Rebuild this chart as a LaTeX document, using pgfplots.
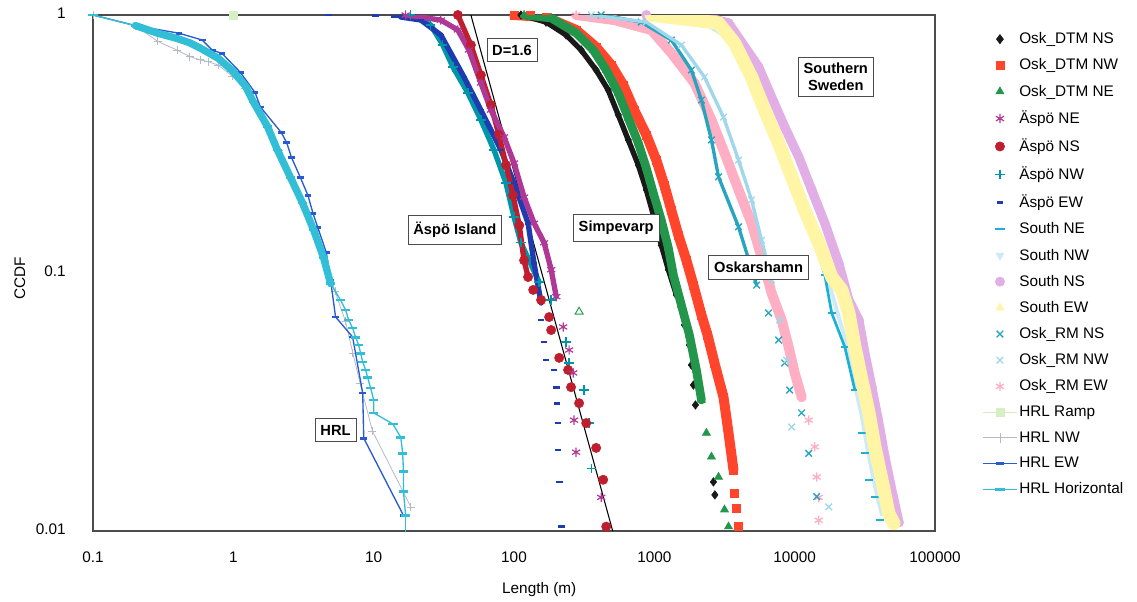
\documentclass[border=0pt]{standalone}
\usepackage{fontspec}
\setmainfont{Liberation Sans}
\usepackage{pgfplots}
\pgfplotsset{compat=1.18}
\definecolor{cBlack}{RGB}{25,25,25}
\definecolor{cRed}{RGB}{255,70,45}
\definecolor{cGreen}{RGB}{35,150,75}
\definecolor{cMag}{RGB}{175,55,150}
\definecolor{cDRed}{RGB}{190,30,45}
\definecolor{cTeal}{RGB}{0,150,170}
\definecolor{cBlue}{RGB}{30,60,175}
\definecolor{cSNE}{RGB}{30,175,215}
\definecolor{cSNW}{RGB}{205,235,245}
\definecolor{cSNS}{RGB}{225,175,230}
\definecolor{cSEW}{RGB}{255,245,165}
\definecolor{cRNS}{RGB}{40,165,190}
\definecolor{cRNW}{RGB}{160,215,235}
\definecolor{cREW}{RGB}{255,175,195}
\definecolor{cRamp}{RGB}{215,240,195}
\definecolor{cHNW}{RGB}{180,185,195}
\definecolor{cHEW}{RGB}{40,90,210}
\definecolor{cHH}{RGB}{50,190,215}
\newcommand\fs{\fontsize{11.5pt}{13pt}\selectfont}
\newcommand\fb{\fontsize{11pt}{13pt}\selectfont\bfseries}
\tikzset{lbl/.style={draw=black!70, fill=white, font=\fb, inner xsep=4pt, inner ysep=5pt, line width=0.6pt}}
\pgfplotsset{band/.style={line width=#1, line join=round, line cap=round, forget plot}}
\begin{document}
\begin{tikzpicture}
\begin{axis}[name=ax, scale only axis, width=631.5pt, height=387pt,
 xmode=log, ymode=log, xmin=0.1, xmax=100000, ymin=0.01, ymax=1,
 xtick={0.1,1,10,100,1000,10000,100000}, xticklabels={0.1,1,10,100,1000,10000,100000},
 ytick={0.01,0.1,1}, yticklabels={0.01,0.1,1},
 tick style={draw=none}, minor xtick={}, minor ytick={},
 /pgf/number format/assume math mode=true,
 typeset ticklabels with strut,
 tick label style={font=\fs},
 xticklabel style={yshift=-11pt},
 yticklabel style={xshift=-17pt},
 axis line style={draw=black!70, line width=0.8pt},
 xlabel={Length (m)}, ylabel={CCDF},
 label style={font=\fs},
 xlabel style={at={(axis description cs:0.53,-0.1214)}, anchor=base},
 ylabel style={at={(axis description cs:-0.087,0.49)}, anchor=center, rotate=0},
 clip mode=individual,
 legend style={at={(1,1)}, anchor=north west, xshift=35pt, yshift=-12pt, draw=none, fill=none, font=\fs, row sep=7.8pt, inner sep=0pt, nodes={inner sep=1pt}},
 legend cell align=left,
 legend image code/.code={\draw[mark repeat=2,mark phase=2,#1] plot coordinates {(0pt,0pt)(13pt,0pt)(26pt,0pt)};},
]
% ---------- legend (order of the reference) ----------
\addlegendimage{only marks, mark=diamond*, mark size=3.5pt, color=cBlack}
\addlegendentry{Osk\_DTM NS}
\addlegendimage{only marks, mark=square*, mark size=3pt, color=cRed}
\addlegendentry{Osk\_DTM NW}
\addlegendimage{only marks, mark=triangle*, mark size=3.5pt, color=cGreen}
\addlegendentry{Osk\_DTM NE}
\addlegendimage{only marks, mark=asterisk, mark size=3.5pt, line width=0.9pt, color=cMag}
\addlegendentry{Äspö NE}
\addlegendimage{only marks, mark=*, mark size=3.5pt, color=cDRed}
\addlegendentry{Äspö NS}
\addlegendimage{only marks, mark=+, mark size=3.5pt, line width=1pt, color=cTeal}
\addlegendentry{Äspö NW}
\addlegendimage{only marks, mark=-, mark size=2.5pt, line width=2pt, color=cBlue}
\addlegendentry{Äspö EW}
\addlegendimage{only marks, mark=-, mark size=3.5pt, line width=1.5pt, color=cSNE}
\addlegendentry{South NE}
\addlegendimage{only marks, mark=triangle*, mark size=3.5pt, mark options={rotate=180}, color=cSNW}
\addlegendentry{South NW}
\addlegendimage{only marks, mark=*, mark size=3.5pt, color=cSNS}
\addlegendentry{South NS}
\addlegendimage{only marks, mark=triangle*, mark size=3.5pt, color=cSEW}
\addlegendentry{South EW}
\addlegendimage{only marks, mark=x, mark size=3.5pt, line width=1pt, color=cRNS}
\addlegendentry{Osk\_RM NS}
\addlegendimage{only marks, mark=x, mark size=3.5pt, line width=1pt, color=cRNW}
\addlegendentry{Osk\_RM NW}
\addlegendimage{only marks, mark=asterisk, mark size=3.5pt, line width=1pt, color=cREW}
\addlegendentry{Osk\_RM EW}
\addlegendimage{mark=square*, mark size=3pt, line width=0.6pt, color=cRamp}
\addlegendentry{HRL Ramp}
\addlegendimage{mark=+, mark size=3.5pt, line width=0.6pt, color=cHNW}
\addlegendentry{HRL NW}
\addlegendimage{mark=-, mark size=3pt, line width=1pt, color=cHEW, mark options={line width=2pt}}
\addlegendentry{HRL EW}
\addlegendimage{mark=-, mark size=3.5pt, line width=1pt, color=cHH, mark options={line width=2pt}}
\addlegendentry{HRL Horizontal}

% ---------- HRL ----------
\addplot[cHNW, line width=0.6pt, mark=+, mark size=3pt, forget plot] coordinates {
(0.1,1) (0.2,0.91) (0.29,0.79) (0.4,0.73) (0.49,0.69) (0.58,0.67) (0.66,0.66) (0.78,0.64) (0.98,0.58) (1.22,0.52) (1.45,0.45) (1.8,0.36) (2.1,0.30) (2.6,0.23) (3.2,0.18) (3.8,0.145) (4.5,0.112) (5.3,0.085) (6.3,0.065) (7.1,0.049) (8.0,0.0375) (9.8,0.0244) (18.4,0.0124)};
\addplot[cHEW, line width=1pt, mark=-, mark size=2.5pt, mark options={line width=2pt}, forget plot] coordinates {
(0.1,1) (0.2,0.91) (0.41,0.85) (0.6,0.80) (0.71,0.73) (0.83,0.71) (1.12,0.60) (1.43,0.50) (1.56,0.44) (2.2,0.35) (2.4,0.32) (2.6,0.28) (3.0,0.235) (3.4,0.20) (3.7,0.17) (4.0,0.15) (4.6,0.12) (4.93,0.094) (5.35,0.0676) (7.08,0.0565) (8.35,0.0343) (8.5,0.0229) (16.3,0.0115)};
\addplot[cHH, band=5.5pt] coordinates {
(0.2,0.91) (0.29,0.85) (0.4,0.81) (0.49,0.78) (0.58,0.745) (0.78,0.68) (0.98,0.61) (1.22,0.53) (1.39,0.46) (1.75,0.37) (2.06,0.30) (2.55,0.235) (3.11,0.187) (3.73,0.147) (4.39,0.115) (4.93,0.091)};
\addplot[cHH, line width=1pt, mark=-, mark size=3.5pt, mark options={line width=2pt}, forget plot] coordinates {
(0.1,1) (0.2,0.91) (0.29,0.85) (0.4,0.81) (0.49,0.78) (0.58,0.745) (0.78,0.68) (0.98,0.61) (1.22,0.53) (1.39,0.46) (1.75,0.37) (2.06,0.30) (2.55,0.235) (3.11,0.187) (3.73,0.147) (4.39,0.115) (4.93,0.091) (5.81,0.0786) (6.31,0.0719) (6.63,0.0658) (7.08,0.0612) (7.44,0.0564) (7.81,0.0526) (8.07,0.0489) (8.35,0.0452) (8.77,0.0421) (9.06,0.0393) (9.52,0.0358) (10,0.0322) (10,0.0287) (13.7,0.026) (15.6,0.0231) (16.1,0.020) (16.3,0.0170) (16.3,0.0142) (16.9,0.0115)};
\addplot[cHH, line width=1pt, forget plot] coordinates {(16.9,0.0115) (16.9,0.0095)};
\addplot[only marks, mark=square*, mark size=3pt, cRamp, forget plot] coordinates {(1,1)};

% ---------- Aspo ----------
\addplot[black, line width=0.8pt, forget plot] coordinates {(49.3,1) (505,0.01)};
\addplot[cTeal, band=4pt] coordinates {
(18.4,1) (25.5,0.915) (31.1,0.765) (36.7,0.629) (46.9,0.499) (58.1,0.392) (72,0.30) (87.7,0.223) (100,0.165) (112,0.131) (151,0.0923)};
\addplot[cBlue, band=4pt] coordinates {
(15.6,0.982) (21.7,0.956) (30.1,0.837) (44,0.575) (58.1,0.428) (80.7,0.30) (100,0.223) (126,0.156) (139,0.109) (156,0.0765)};
\addplot[cDRed, band=4pt] coordinates {
(39.8,1) (49.3,0.765) (58.1,0.585) (68.5,0.448) (78.1,0.343) (87.7,0.262) (98.4,0.200) (109,0.153) (118,0.112) (126,0.0965)};
\addplot[cMag, band=4pt] coordinates {
(16.9,1) (30.1,0.956) (39.8,0.875) (47.7,0.732) (58.1,0.545) (68.5,0.428) (84.9,0.337) (100,0.267) (118,0.197) (139,0.156) (164,0.131) (184,0.103) (200,0.081)};
\addplot[only marks, mark=+, mark size=3.5pt, line width=1pt, cTeal, forget plot] coordinates {
(18.4,1) (25.5,0.915) (31.1,0.765) (36.7,0.629) (46.9,0.499) (58.1,0.392) (72,0.30) (87.7,0.223) (100,0.165) (112,0.131) (151,0.0923) (184,0.0786) (235,0.054) (247,0.0448) (316,0.0352) (343,0.0262) (355,0.0175)};
\addplot[only marks, mark=-, mark size=2.5pt, line width=2pt, cBlue, forget plot] coordinates {
(4.77,1) (10.3,0.995) (14,0.985) (15.6,0.982) (21.7,0.956) (30.1,0.837) (44,0.575) (58.1,0.428) (80.7,0.30) (100,0.223) (126,0.156) (139,0.109) (156,0.0765) (156,0.0658) (164,0.054) (169,0.046) (193,0.0421) (200,0.0361) (203,0.0313) (206,0.0262) (206,0.0206) (210,0.0155) (217,0.0104)};
\addplot[only marks, mark=*, mark size=3.5pt, cDRed, forget plot] coordinates {
(39.8,1) (49.3,0.765) (58.1,0.585) (68.5,0.448) (78.1,0.343) (87.7,0.262) (98.4,0.200) (109,0.153) (118,0.112) (126,0.0965) (137,0.086) (156,0.0786) (178,0.0675) (184,0.0601) (210,0.0469) (243,0.0421) (255,0.0361) (291,0.0313) (327,0.0262) (385,0.021) (432,0.0158) (454,0.0104)};
\addplot[only marks, mark=asterisk, mark size=3.5pt, line width=0.9pt, cMag, forget plot] coordinates {
(16.9,1) (30.1,0.956) (39.8,0.875) (47.7,0.732) (58.1,0.545) (68.5,0.428) (84.9,0.337) (100,0.267) (118,0.197) (139,0.156) (164,0.131) (184,0.103) (200,0.081) (224,0.0618) (247,0.0503) (264,0.041) (268,0.0269) (277,0.0202) (418,0.0135)};
\addplot[only marks, mark=triangle, mark size=3.5pt, line width=0.7pt, cGreen, forget plot] coordinates {(291,0.0707)};

% ---------- Simpevarp (Osk_DTM) ----------
\addplot[cRed, band=7.5pt] coordinates {
(100,1) (169,0.982) (277,0.875) (385,0.751) (493,0.640) (601,0.535) (719,0.428) (877,0.343) (1033,0.274) (1178,0.219) (1322,0.175) (1484,0.140) (1693,0.112) (1899,0.0898) (2166,0.0688) (2393,0.0575) (2683,0.0448) (3111,0.033) (3378,0.024) (3667,0.0172)};
\addplot[only marks, mark=square*, mark size=3pt, cRed, forget plot] coordinates {
(100,1) (130,0.995) (169,0.982) (277,0.875) (385,0.751) (493,0.640) (601,0.535) (719,0.428) (877,0.343) (1033,0.274) (1178,0.219) (1322,0.175) (1484,0.140) (1693,0.112) (1899,0.0898) (2166,0.0688) (2393,0.0575) (2683,0.0448) (3111,0.033) (3378,0.024) (3667,0.0172) (3727,0.014) (3853,0.0123) (3981,0.0104)};
\addplot[cBlack, band=4pt] coordinates {
(112,1) (169,0.939) (235,0.837) (301,0.732) (385,0.612) (469,0.512) (553,0.41) (652,0.328) (769,0.262) (877,0.21) (984,0.168) (1122,0.128) (1259,0.103) (1436,0.0822)};
\addplot[only marks, mark=diamond*, mark size=3.2pt, cBlack, forget plot] coordinates {
(112,1) (169,0.939) (235,0.837) (301,0.732) (385,0.612) (469,0.512) (553,0.41) (652,0.328) (769,0.262) (877,0.21) (984,0.168) (1122,0.128) (1259,0.103) (1436,0.0822) (1637,0.0629) (1778,0.0526) (1837,0.044) (1899,0.0368) (1963,0.0308) (2637,0.0155) (2700,0.0138)};
\addplot[cGreen, band=6.5pt] coordinates {
(118,1) (184,0.974) (277,0.852) (367,0.732) (454,0.612) (553,0.499) (652,0.399) (769,0.319) (877,0.255) (984,0.204) (1122,0.160) (1259,0.125) (1368,0.098) (1559,0.0751) (1778,0.0575) (1995,0.0421) (2166,0.0322)};
\addplot[only marks, mark=triangle*, mark size=3.5pt, cGreen, forget plot] coordinates {
(118,1) (184,0.974) (277,0.852) (367,0.732) (454,0.612) (553,0.499) (652,0.399) (769,0.319) (877,0.255) (984,0.204) (1122,0.160) (1259,0.125) (1368,0.098) (1559,0.0751) (1778,0.0575) (1995,0.0421) (2166,0.0322) (2350,0.024) (2553,0.0194) (2866,0.0162) (3162,0.0121) (3378,0.0104)};

% ---------- Oskarshamn (Osk_RM) ----------
\addplot[cREW, band=7.5pt] coordinates {
(277,1) (518,0.956) (952,0.875) (1322,0.712) (1931,0.545) (2553,0.392) (3162,0.292) (3981,0.21) (4929,0.156) (5809,0.115) (6848,0.0837) (8072,0.0658) (9057,0.0517) (10000,0.041) (11213,0.033)};
\addplot[only marks, mark=asterisk, mark size=3.5pt, line width=1pt, cREW, forget plot] coordinates {
(277,1) (518,0.956) (952,0.875) (1322,0.712) (1931,0.545) (2553,0.392) (3162,0.292) (3981,0.21) (4929,0.156) (5809,0.115) (6848,0.0837) (8072,0.0658) (9057,0.0517) (10000,0.041) (11213,0.033) (12589,0.0269) (13900,0.0212) (14350,0.0162) (14830,0.0135) (14830,0.011)};
\addplot[cRNS, band=2.5pt] coordinates {
(418,1) (807,0.939) (1322,0.80) (1837,0.612) (2166,0.468) (2553,0.328) (2866,0.236) (3981,0.151) (5358,0.0898)};
\addplot[only marks, mark=x, mark size=3.5pt, line width=1pt, cRNS, forget plot] coordinates {
(418,1) (807,0.939) (1322,0.80) (1837,0.612) (2166,0.468) (2553,0.328) (2866,0.236) (3981,0.151) (5358,0.0898) (6514,0.070) (7690,0.055) (8490,0.0448) (9200,0.0352) (11213,0.0287) (12589,0.020) (14350,0.0136)};
\addplot[cRNW, band=2.5pt] coordinates {
(355,1) (877,0.939) (1559,0.765) (2275,0.575) (3111,0.402) (3981,0.274) (4929,0.192) (5809,0.134) (6848,0.094)};
\addplot[only marks, mark=x, mark size=3.5pt, line width=1pt, cRNW, forget plot] coordinates {
(355,1) (877,0.939) (1559,0.765) (2275,0.575) (3111,0.402) (3981,0.274) (4929,0.192) (5809,0.134) (6848,0.094) (7820,0.0658) (8770,0.046) (9513,0.0253) (17500,0.0124)};

% ---------- Southern Sweden ----------
\addplot[cSNS, band=7pt] coordinates {
(877,1) (2166,0.991) (3378,0.931) (5530,0.629) (6848,0.481) (8490,0.368) (10690,0.282) (13217,0.21) (16400,0.156) (20600,0.109) (24300,0.0786) (28640,0.0658) (31620,0.049) (35440,0.0361) (39800,0.0262) (43900,0.0194) (49236,0.0144) (55300,0.0108)};
\addplot[only marks, mark=*, mark size=3.5pt, cSNS, forget plot] coordinates {
(877,1) (3378,0.931) (5530,0.629) (8490,0.368) (13217,0.21) (20600,0.109) (28640,0.0658) (35440,0.0361) (43900,0.0194) (55300,0.0108)};
\addplot[cSNW, band=3pt] coordinates {
(1837,1) (3548,0.80) (4540,0.585) (5620,0.436) (7080,0.322) (8770,0.24) (10860,0.179) (13680,0.132) (16950,0.0976) (19950,0.0719) (23500,0.0527) (26370,0.0385) (30067,0.028) (33200,0.0206) (37250,0.015) (41772,0.0116)};
\addplot[cSNE, band=2pt] coordinates {
(2166,1) (3727,0.80) (4775,0.596) (5809,0.456) (7200,0.337) (8910,0.251) (11213,0.184) (13900,0.134) (16400,0.098) (18360,0.070) (22760,0.0517) (26840,0.0352)};
\addplot[only marks, mark=-, mark size=3pt, line width=1.5pt, cSNE, forget plot] coordinates {
(16400,0.098) (18360,0.070) (22760,0.0517) (26840,0.0352) (30067,0.024) (31620,0.020) (33800,0.0158) (37250,0.0136) (40460,0.011)};
\addplot[cSEW, band=10pt] coordinates {
(952,1) (2866,0.931) (3727,0.779) (4929,0.575) (6100,0.428) (7690,0.319) (9513,0.236) (11780,0.175) (14830,0.131) (18360,0.0965) (21643,0.086) (24300,0.070) (26840,0.0517) (30067,0.0385) (33800,0.0287) (37250,0.0212) (41772,0.0158) (46880,0.0117) (50900,0.0107)};

% ---------- labels ----------
\node[lbl] at (axis cs:96.8,0.732) {D=1.6};
\node[lbl] at (axis cs:37.9,0.147) {Äspö Island};
\node[lbl] at (axis cs:535,0.15) {Simpevarp};
\node[lbl] at (axis cs:5530,0.105) {Oskarshamn};
\node[lbl, align=center, inner ysep=4pt] at (axis cs:19630,0.575) {Southern\\Sweden};
\node[lbl] at (axis cs:5.35,0.0246) {HRL};
\end{axis}
\pgfresetboundingbox
\path (ax.south west) ++(-69.75pt,-52.5pt) rectangle ++(852.75pt,450.75pt);
\end{tikzpicture}
\end{document}
